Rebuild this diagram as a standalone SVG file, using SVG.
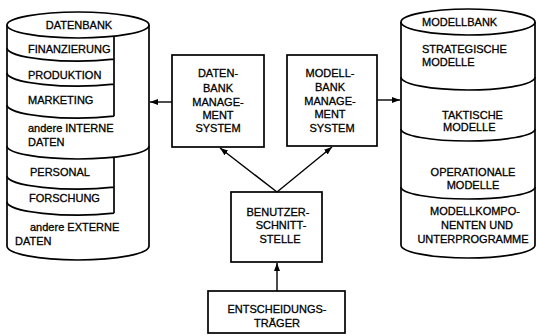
<svg xmlns="http://www.w3.org/2000/svg" width="537" height="336" viewBox="0 0 537 336">
<defs>
<marker id="ah" markerUnits="userSpaceOnUse" markerWidth="9" markerHeight="7" refX="8" refY="3" orient="auto"><path d="M0,0 L8,3 L0,6 z" fill="#000"/></marker>
<style>
.s{fill:none;stroke:#000;stroke-width:1.7}
.b{fill:#fff;stroke:#000;stroke-width:1.7}
.t{font-family:"Liberation Sans",Arial,sans-serif;font-size:11px;fill:#000;stroke:#000;stroke-width:0.3}
.m{text-anchor:middle}
.c{fill:none;stroke:#000;stroke-width:1.4}
</style>
</defs>
<rect width="537" height="336" fill="#fff"/>
<g id="datenbank">
<path class="s" d="M7,25 L7,246 A71,14 0 0 0 149,246 L149,25"/>
<ellipse class="s" cx="78" cy="25" rx="71" ry="13"/>
<path class="s" d="M114,36.2 L114,116.2 M7,48 A71,13 0 0 0 114,59.2 M7,73 A71,13 0 0 0 114,84.2 M7,105 A71,13 0 0 0 114,116.2 M7,146 A71,13 0 0 0 149,146 M114,157.2 L114,213.2 M7,176 A71,13 0 0 0 114,187.2 M7,202 A71,13 0 0 0 114,213.2"/>
<text class="t m" x="79" y="29">DATENBANK</text>
<text class="t" x="28" y="53">FINANZIERUNG</text>
<text class="t" x="28" y="79">PRODUKTION</text>
<text class="t" x="28" y="104">MARKETING</text>
<text class="t" x="28" y="132">andere INTERNE</text>
<text class="t" x="28" y="146">DATEN</text>
<text class="t" x="30" y="176">PERSONAL</text>
<text class="t" x="29" y="202">FORSCHUNG</text>
<text class="t" x="30" y="231">andere EXTERNE</text>
<text class="t" x="15" y="245">DATEN</text>
</g>
<g id="modellbank">
<path class="s" d="M401,22 L401,245 A67,13 0 0 0 535,245 L535,22"/>
<ellipse class="s" cx="468" cy="22" rx="67" ry="13"/>
<path class="s" d="M401,77 A67,13 0 0 0 535,77 M401,129 A67,12 0 0 0 535,129 M401,187 A67,12 0 0 0 535,187"/>
<text class="t" x="422" y="26">MODELLBANK</text>
<text class="t" x="422" y="53">STRATEGISCHE</text>
<text class="t" x="422" y="66">MODELLE</text>
<text class="t" x="442" y="119">TAKTISCHE</text>
<text class="t" x="443" y="131">MODELLE</text>
<text class="t m" x="473" y="176">OPERATIONALE</text>
<text class="t m" x="473" y="189">MODELLE</text>
<text class="t m" x="475" y="215">MODELLKOMPO-</text>
<text class="t m" x="477" y="229">NENTEN UND</text>
<text class="t m" x="473" y="243">UNTERPROGRAMME</text>
</g>
<g id="dbms">
<rect class="b" x="172" y="55" width="92" height="92"/>
<text class="t m" x="218" y="77">DATEN-</text>
<text class="t m" x="218" y="92">BANK</text>
<text class="t m" x="218" y="106">MANAGE-</text>
<text class="t m" x="218" y="119">MENT</text>
<text class="t m" x="218" y="132">SYSTEM</text>
</g>
<g id="mbms">
<rect class="b" x="287" y="55" width="90" height="91"/>
<text class="t m" x="330" y="77">MODELL-</text>
<text class="t m" x="330" y="91">BANK</text>
<text class="t m" x="330" y="105">MANAGE-</text>
<text class="t m" x="330" y="118">MENT</text>
<text class="t m" x="332" y="132">SYSTEM</text>
</g>
<g id="benutzerschnittstelle">
<rect class="b" x="231" y="192" width="91" height="70"/>
<text class="t m" x="278" y="216">BENUTZER-</text>
<text class="t m" x="281" y="229">SCHNITT-</text>
<text class="t m" x="280" y="243">STELLE</text>
</g>
<g id="entscheidungstraeger">
<rect class="b" x="208" y="291" width="137" height="42"/>
<text class="t m" x="277" y="313">ENTSCHEIDUNGS-</text>
<text class="t m" x="277" y="327">TRÄGER</text>
</g>
<g id="connectors">
<line class="c" x1="172" y1="102" x2="150" y2="102" marker-end="url(#ah)"/>
<line class="c" x1="377" y1="100" x2="400" y2="100" marker-end="url(#ah)"/>
<line class="c" x1="277" y1="192" x2="220" y2="148" marker-end="url(#ah)"/>
<line class="c" x1="277" y1="192" x2="332" y2="147" marker-end="url(#ah)"/>
<line class="c" x1="277" y1="291" x2="277" y2="263" marker-end="url(#ah)"/>
</g>
</svg>
